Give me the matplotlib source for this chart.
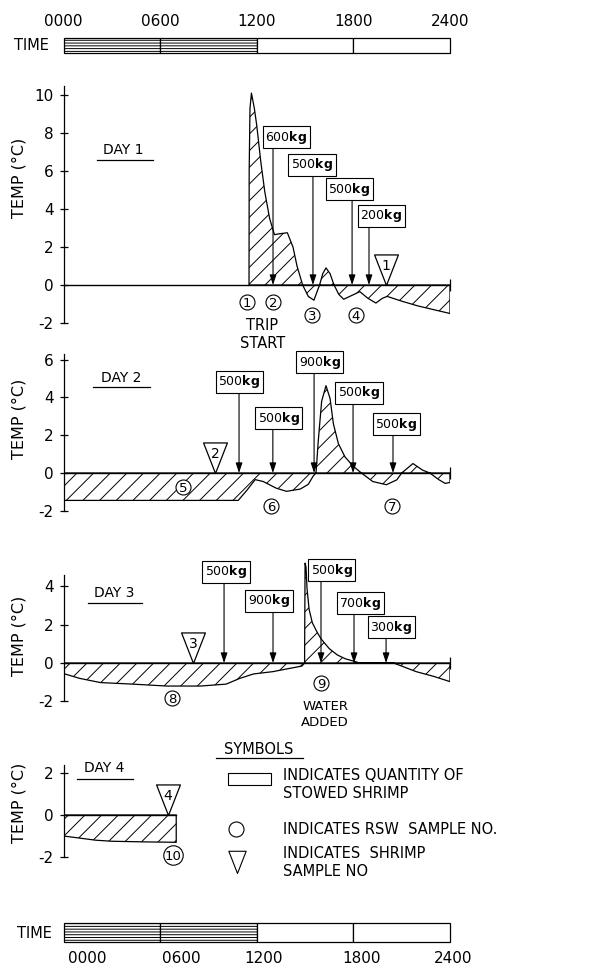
import matplotlib
matplotlib.use("Agg")
import matplotlib.pyplot as plt
from matplotlib.path import Path
from matplotlib.patches import Rectangle

plt.rcParams.update({
    "font.family": "DejaVu Sans",
    "axes.unicode_minus": False,
    "hatch.linewidth": 0.7,
    "hatch.color": "black",
})

# ---- data ----
time_labels = ["0000", "0600", "1200", "1800", "2400"]
time_label_hours = [0, 6, 12, 18, 24]
bottom_label_hours = [1.5, 7.3, 12.4, 18.5, 24.2]
segment_start = [0, 6, 12, 18]
segment_night = [True, True, False, False]

day1_hours = [11.52, 11.53, 11.58, 11.67, 11.85, 12.0, 12.25, 12.5, 12.8, 13.1,
              13.45, 13.9, 14.25, 14.5, 14.85, 15.2, 15.55, 15.9, 16.1, 16.3,
              16.55, 16.8, 17.1, 17.4, 17.9, 18.4, 18.9, 19.4, 19.8, 20.1,
              21.0, 22.0, 23.0, 24.0]
day1_temp = [0, 6.0, 9.3, 10.1, 9.3, 8.4, 6.5, 4.9, 3.5, 2.65,
             2.7, 2.75, 2.0, 1.0, 0, -0.6, -0.8, 0, 0.6, 0.9,
             0.6, 0, -0.5, -0.75, -0.55, -0.35, -0.7, -0.95, -0.7, -0.6,
             -0.85, -1.1, -1.3, -1.5]

day2_hours = [0, 10.85, 11.4, 11.9, 12.4, 13.2, 13.85, 14.7, 15.2, 15.5,
              15.68, 15.82, 16.03, 16.3, 16.55, 16.76, 17.07, 17.48, 18.0, 18.5,
              19.2, 20.05, 20.7, 21.0, 21.7, 22.3, 22.75, 23.3, 23.7, 24.0]
day2_temp = [-1.45, -1.45, -0.9, -0.35, -0.45, -0.8, -0.97, -0.85, -0.6, -0.17,
             0, 1.7, 3.8, 4.62, 3.95, 2.6, 1.55, 0.85, 0.35, 0,
             -0.45, -0.62, -0.36, 0, 0.5, 0.15, 0, -0.35, -0.55, -0.5]

day3_hours = [0, 1.0, 2.3, 4.3, 6.4, 8.5, 10.1, 10.95, 11.8, 13.0,
              14.05, 14.8, 14.97, 15.0, 15.06, 15.12, 15.25, 15.45, 15.75, 16.0,
              16.5, 17.0, 17.5, 18.0, 18.4, 20.5, 21.9, 23.0, 24.0]
day3_temp = [-0.55, -0.8, -1.02, -1.1, -1.2, -1.2, -1.1, -0.8, -0.57, -0.45,
             -0.28, -0.16, 0, 5.2, 5.0, 3.9, 2.8, 2.1, 1.6, 1.25,
             0.75, 0.42, 0.22, 0.1, 0, 0, -0.45, -0.7, -0.97]

day4_hours = [0, 1, 2, 3, 5, 7]
day4_temp = [-1.0, -1.1, -1.2, -1.25, -1.28, -1.3]

day1_load_kg = [600, 500, 500, 200]
day1_load_hours = [13.01, 15.49, 17.92, 18.97]
day2_load_kg = [500, 500, 900, 500, 500]
day2_load_hours = [10.9, 13.0, 15.56, 17.98, 20.46]
day3_load_kg = [500, 900, 500, 700, 300]
day3_load_hours = [9.97, 13.01, 15.99, 18.04, 20.03]

rsw_sample_no = [1, 2, 3, 4, 5, 6, 7, 8, 9, 10]
rsw_sample_day = [1, 1, 1, 1, 2, 2, 2, 3, 3, 4]
rsw_sample_hours = [11.39, 13.01, 15.43, 18.16, 7.42, 12.89, 20.4, 6.74, 15.99, 6.8]

shrimp_sample_no = [1, 2, 3, 4]
shrimp_sample_day = [1, 2, 3, 4]
shrimp_sample_hours = [20.03, 9.41, 8.04, 6.49]

# ---- layout (label placement, not data) ----
W, H = 616, 967
X0, X1 = 63.5, 450.0          # pixel x of 0 h and 24 h
# zero line px, px per degree, ylim, spine top, ticks
panel_geom = {
    1: (285, 19.0, (-3.5, 11.5), 10.5, [-2, 0, 2, 4, 6, 8, 10]),
    2: (473, 18.9, (-2.8, 7.0), 6.3, [-2, 0, 2, 4, 6]),
    3: (663, 19.2, (-3.5, 5.8), 4.6, [-2, 0, 2, 4]),
    4: (815, 21.0, (-2.6, 3.0), 2.4, [-2, 0, 2]),
}
# (box centre hour, box bottom temp)
day1_box = [(13.82, 7.32), (15.43, 5.89), (17.76, 4.58), (19.72, 3.21)]
day2_box = [(10.93, 4.38), (13.38, 2.45), (15.9, 5.42), (18.35, 3.8), (20.65, 2.14)]
day3_box = [(10.09, 4.32), (12.76, 2.81), (16.67, 4.38), (18.44, 2.66), (20.34, 1.41)]
rsw_circle_temp = [-0.89, -0.89, -1.58, -1.58, -0.73, -1.77, -1.77, -1.82, -1.04, -1.9]

TRI = Path([(0, 0), (-0.39, 1), (0.39, 1), (0, 0)],
           [Path.MOVETO, Path.LINETO, Path.LINETO, Path.CLOSEPOLY])

fig = plt.figure(figsize=(W / 100, H / 100), dpi=100)
fig.patch.set_facecolor("white")

deco = fig.add_axes([0, 0, 1, 1])
deco.set_xlim(0, W)
deco.set_ylim(H, 0)
deco.axis("off")


def time_bar(top_px, h_px, label_y, label_hours):
    ax = fig.add_axes([X0 / W, 1 - (top_px + h_px) / H, (X1 - X0) / W, h_px / H])
    ax.set_xlim(0, 24)
    ax.set_ylim(0, 1)
    ax.axis("off")
    bars = ax.bar(segment_start, 1, width=6, align="edge",
                  facecolor="white", edgecolor="k", lw=0.9)
    for b, night in zip(bars, segment_night):
        b.set_clip_on(False)
        if night:
            b.set_hatch("------")
    for lab, h in zip(time_labels, label_hours):
        ax.text(h, label_y, lab, ha="center", va="center", fontsize=11)
    return ax


time_bar(38, 15, 2.1, time_label_hours)
time_bar(923, 19, -0.85, bottom_label_hours)
deco.text(14, 46, "TIME", ha="left", va="center", fontsize=10.5)
deco.text(17, 933, "TIME", ha="left", va="center", fontsize=10.5)


def add_panel(day, hours, temp):
    zero_px, ppu, (lo, hi), top, ticks = panel_geom[day]
    bottom_px = zero_px - lo * ppu
    ax = fig.add_axes([X0 / W, 1 - bottom_px / H, (X1 - X0) / W, (hi - lo) * ppu / H])
    ax.set_xlim(0, 24)
    ax.set_ylim(lo, hi)
    ax.patch.set_visible(False)
    for s in ["top", "right", "bottom"]:
        ax.spines[s].set_visible(False)
    ax.spines["left"].set_bounds(-2, top)
    ax.spines["left"].set_linewidth(0.9)
    ax.set_xticks([])
    ax.set_yticks(ticks)
    ax.tick_params(axis="y", direction="inout", length=6, width=0.9,
                   labelsize=11, pad=4)
    end = hours[-1]
    ax.axhline(0, xmin=0, xmax=end / 24, color="k", lw=1.0)
    if end == 24:
        ax.plot([end], [0], marker="|", ms=8, mew=0.9, color="k", clip_on=False)
    ax.fill_between(hours, temp, 0, facecolor="none", edgecolor="k",
                    hatch="//", lw=0.9)
    return ax


axes = {
    1: add_panel(1, day1_hours, day1_temp),
    2: add_panel(2, day2_hours, day2_temp),
    3: add_panel(3, day3_hours, day3_temp),
    4: add_panel(4, day4_hours, day4_temp),
}


def loads(ax, kgs, hours, boxes):
    for kg, h, (bh, bt) in zip(kgs, hours, boxes):
        ax.annotate("", xy=(h, 0), xytext=(h, bt),
                    arrowprops=dict(arrowstyle="-|>,head_length=0.6,head_width=0.2",
                                    color="k", lw=0.8, shrinkA=0, shrinkB=0,
                                    mutation_scale=10),
                    zorder=4, annotation_clip=False)
        ax.text(bh, bt, f"{kg}$\\mathbf{{kg}}$", ha="center", va="bottom",
                fontsize=9, zorder=5, clip_on=False,
                bbox=dict(boxstyle="square,pad=0.2", fc="white", ec="k", lw=0.8))


loads(axes[1], day1_load_kg, day1_load_hours, day1_box)
loads(axes[2], day2_load_kg, day2_load_hours, day2_box)
loads(axes[3], day3_load_kg, day3_load_hours, day3_box)

for n, d, h, t in zip(rsw_sample_no, rsw_sample_day, rsw_sample_hours, rsw_circle_temp):
    ax = axes[d]
    ms = 10.8 if n < 10 else 14
    ax.plot([h], [t], "o", ms=ms, mfc="white", mec="k", mew=0.8, zorder=6, clip_on=False)
    ax.text(h, t, str(n), ha="center", va="center_baseline", fontsize=9.5, zorder=7)

for n, d, h in zip(shrimp_sample_no, shrimp_sample_day, shrimp_sample_hours):
    ax = axes[d]
    ax.plot([h], [0], marker=TRI, ms=44, mfc="white", mec="k", mew=0.9,
            zorder=6, clip_on=False)
    ax.annotate(str(n), xy=(h, 0), xytext=(0, 13.5), textcoords="offset points",
                ha="center", va="center", fontsize=10, zorder=7)

# axis titles and day labels
for yc in [178, 419, 636, 803]:
    deco.text(19, yc, "TEMP (°C)", rotation=90, ha="center", va="center", fontsize=11.5)

for lab, xc, yc, ux0, ux1, uy in [("DAY 1", 123, 150, 97, 153, 160),
                                  ("DAY 2", 121, 378, 93, 150, 387),
                                  ("DAY 3", 114, 593, 88, 142, 603),
                                  ("DAY 4", 104, 768, 77, 133, 779)]:
    deco.text(xc, yc, lab, ha="center", va="center", fontsize=10)
    deco.plot([ux0, ux1], [uy, uy], color="k", lw=0.9)

deco.text(262, 325, "TRIP", ha="center", va="center", fontsize=10.5)
deco.text(263, 343, "START", ha="center", va="center", fontsize=10.5)
deco.text(326, 707, "WATER", ha="center", va="center", fontsize=9.5)
deco.text(325, 723, "ADDED", ha="center", va="center", fontsize=9.5)

# symbols legend
deco.text(259, 750, "SYMBOLS", ha="center", va="center", fontsize=10.5)
deco.plot([216, 303], [758, 758], color="k", lw=0.9)
deco.add_patch(Rectangle((228, 773), 43, 12, fc="white", ec="k", lw=0.8))
deco.plot([235.5], [829], "o", ms=10.8, mfc="white", mec="k", mew=0.8)
deco.plot([237], [873], marker=TRI, ms=32, mfc="white", mec="k", mew=0.8)
for txt, yc in [("INDICATES QUANTITY OF", 775), ("STOWED SHRIMP", 793),
                ("INDICATES RSW  SAMPLE NO.", 829), ("INDICATES  SHRIMP", 853),
                ("SAMPLE NO", 872)]:
    deco.text(283, yc, txt, ha="left", va="center", fontsize=10.5)

fig.savefig("out.png", dpi=100, facecolor="white")
